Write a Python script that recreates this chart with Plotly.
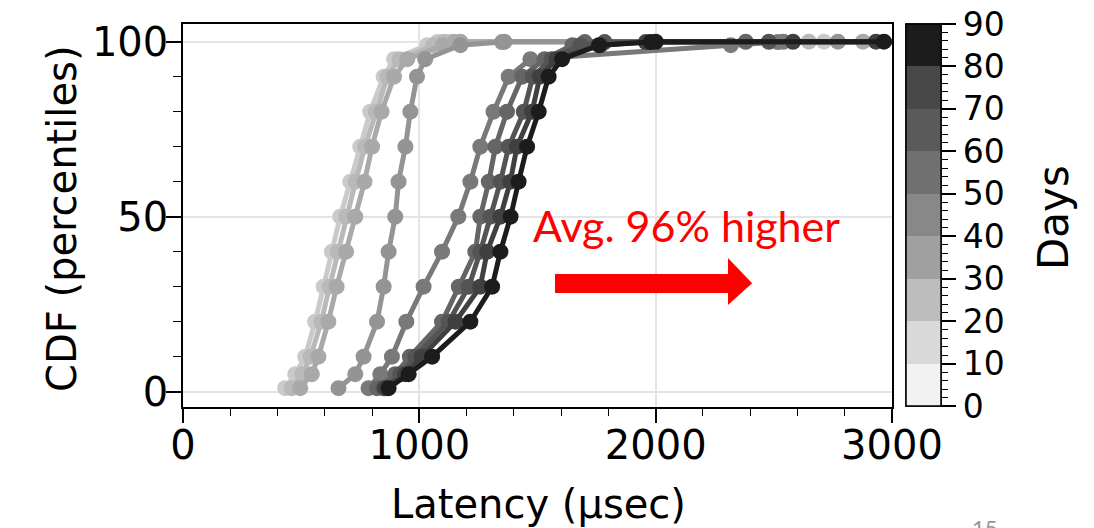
import plotly.graph_objects as go

# ---------------- data ----------------
percentiles = [1, 5, 10, 20, 30, 40, 50, 60, 70, 80, 90, 95, 99, 99.9, 99.99, 100]

lat_a = [432, 475, 517, 559, 595, 630, 665, 708, 750, 792, 849, 893, 1033, 1075, 1110, 2712]
lat_b = [460, 505, 540, 585, 620, 655, 690, 730, 770, 815, 865, 915, 1060, 1100, 1140, 2648]
lat_c = [496, 545, 573, 615, 650, 690, 729, 768, 800, 840, 893, 949, 1100, 1150, 1174, 2877]
lat_d = [658, 729, 764, 821, 849, 870, 898, 912, 941, 962, 990, 1025, 1174, 1350, 1360, 2771]
lat_e = [785, 835, 884, 945, 1018, 1096, 1165, 1216, 1258, 1314, 1378, 1470, 2318, 2517, 2540, 3150]
lat_f = [821, 898, 960, 1096, 1167, 1237, 1258, 1294, 1322, 1371, 1435, 1530, 1648, 1700, 2381, 3200]
lat_g = [849, 920, 983, 1124, 1209, 1258, 1301, 1343, 1378, 1442, 1480, 1560, 1682, 1784, 2479, 3300]
lat_h = [856, 940, 1010, 1153, 1258, 1287, 1343, 1385, 1413, 1477, 1510, 1580, 1767, 1958, 2581, 2932]
lat_i = [870, 955, 1054, 1216, 1308, 1343, 1386, 1420, 1456, 1505, 1547, 1604, 1760, 1979, 2000, 2966]

curve_colors = ['#cacaca', '#b9b9b9', '#a9a9a9', '#949494', '#797979',
                '#656565', '#545454', '#404040', '#1c1c1c']

bar_days = [0, 10, 20, 30, 40, 50, 60, 70, 80, 90]
bin_colors = ['#f2f2f2', '#d9d9d9', '#bdbdbd', '#a0a0a0', '#888888',
              '#707070', '#5a5a5a', '#484848', '#1c1c1c']

x_ticks = [0, 1000, 2000, 3000]
y_ticks = [0, 50, 100]

note_text = "Avg. 96% higher"
page_no = "15"

# ---------------- figure ----------------
FONT = "DejaVu Sans"
fig = go.Figure()

all_lat = [lat_a, lat_b, lat_c, lat_d, lat_e, lat_f, lat_g, lat_h, lat_i]
for lat, col in zip(all_lat, curve_colors):
    fig.add_trace(go.Scatter(
        x=lat, y=percentiles, mode='lines+markers',
        line=dict(color=col, width=5),
        marker=dict(color=col, size=16),
        showlegend=False, hoverinfo='skip'))

# discrete grey colour scale for colour bar
n = len(bin_colors)
cscale = []
for k, c in enumerate(bin_colors):
    cscale.append([k / n, c])
    cscale.append([(k + 1) / n, c])

fig.add_trace(go.Scatter(x=[None], y=[None], mode='markers',
                         marker=dict(color=[bar_days[0]], coloraxis='coloraxis'),
                         showlegend=False, hoverinfo='skip'))
fig.add_trace(go.Scatter(x=[None], y=[None], mode='markers',
                         marker=dict(color=[bar_days[-1]], coloraxis='coloraxis2'),
                         showlegend=False, hoverinfo='skip'))

# page body has an 8px margin, so the figure is drawn from (8, 8)
OFF = 8
W, H = 1094 - OFF, 528 - OFF
L, T = 183 - OFF, 24 - OFF
R = W + OFF - 892
B = H + OFF - 407
pw, ph = W - L - R, H - T - B


def px(xp):
    return (xp - 183) / pw


def py(yp):
    return (407 - yp) / ph


cb_common = dict(x=px(906), xanchor='left', xpad=0, y=py(215), yanchor='middle',
                 ypad=0, len=382, lenmode='pixels', thickness=35,
                 outlinecolor='black', outlinewidth=1.5)

fig.update_layout(
    width=W, height=H,
    margin=dict(l=L, r=R, t=T, b=B, pad=0),
    paper_bgcolor='white', plot_bgcolor='white',
    font=dict(family=FONT, color='black'),
    coloraxis=dict(colorscale=cscale, cmin=bar_days[0], cmax=bar_days[-1],
                   colorbar=dict(**cb_common, tickmode='array', tickvals=bar_days,
                                 ticks='outside', ticklen=15, tickwidth=1.5,
                                 ticklabeloverflow='allow',
                                 tickcolor='black', tickfont=dict(size=33, family=FONT))),
    coloraxis2=dict(colorscale=cscale, cmin=bar_days[0], cmax=bar_days[-1],
                    colorbar=dict(**cb_common, tickmode='linear', tick0=0, dtick=2,
                                  ticks='outside', ticklen=7, tickwidth=1.2,
                                  tickcolor='black', showticklabels=False)),
)

fig.update_xaxes(range=[0, 3000], tickmode='array', tickvals=x_ticks,
                 showline=True, linecolor='black', linewidth=1.5, mirror=True,
                 ticks='outside', ticklen=14, tickwidth=1.5, tickcolor='black',
                 tickfont=dict(size=40, family=FONT), ticklabelstandoff=-12,
                 showgrid=True, gridcolor='#e4e4e4', gridwidth=1.5, zeroline=False,
                 minor=dict(dtick=200, tick0=0, ticks='outside', ticklen=7,
                            tickwidth=1.2, tickcolor='black', showgrid=False))
fig.update_yaxes(range=[-4.37, 105.06], tickmode='array', tickvals=y_ticks,
                 showline=True, linecolor='black', linewidth=1.5, mirror=True,
                 ticks='outside', ticklen=15, tickwidth=1.5, tickcolor='black',
                 tickfont=dict(size=40, family=FONT), ticklabelstandoff=-10,
                 showgrid=True, gridcolor='#e4e4e4', gridwidth=1.5, zeroline=False,
                 minor=dict(dtick=10, tick0=0, ticks='outside', ticklen=8,
                            tickwidth=1.2, tickcolor='black', showgrid=False))

# axis titles
fig.add_annotation(text='Latency (µsec)', xref='paper', yref='paper',
                   x=px(538), y=py(504), xanchor='center',
                   yanchor='middle', showarrow=False, font=dict(size=40, family=FONT))
fig.add_annotation(text='CDF (percentiles)', xref='paper', yref='paper',
                   x=px(62), y=py(218), xanchor='center',
                   yanchor='middle', textangle=-90, showarrow=False,
                   font=dict(size=40, family=FONT))
fig.add_annotation(text='Days', xref='paper', yref='paper',
                   x=px(1053), y=py(218), xanchor='center',
                   yanchor='middle', textangle=-90, showarrow=False,
                   font=dict(size=42, family=FONT))

# red note and arrow
fig.add_annotation(text=note_text, xref='x', yref='y', x=2130, y=47.5,
                   xanchor='center', yanchor='middle', showarrow=False,
                   font=dict(size=43, family='Lato', color='#ff0000'))
fig.add_shape(type='path', xref='x', yref='y',
              path='M 1574,33.6 L 2306,33.6 L 2306,38.2 L 2408,31 L 2306,24.8 '
                   'L 2306,28.2 L 1574,28.2 Z',
              fillcolor='#ff0000', line=dict(width=0))

# page number
fig.add_annotation(text=page_no, xref='paper', yref='paper',
                   x=px(985), y=py(512), xanchor='center',
                   yanchor='top', showarrow=False,
                   font=dict(size=22, family='Lato', color='#999999'))

fig.write_html("out.html")
